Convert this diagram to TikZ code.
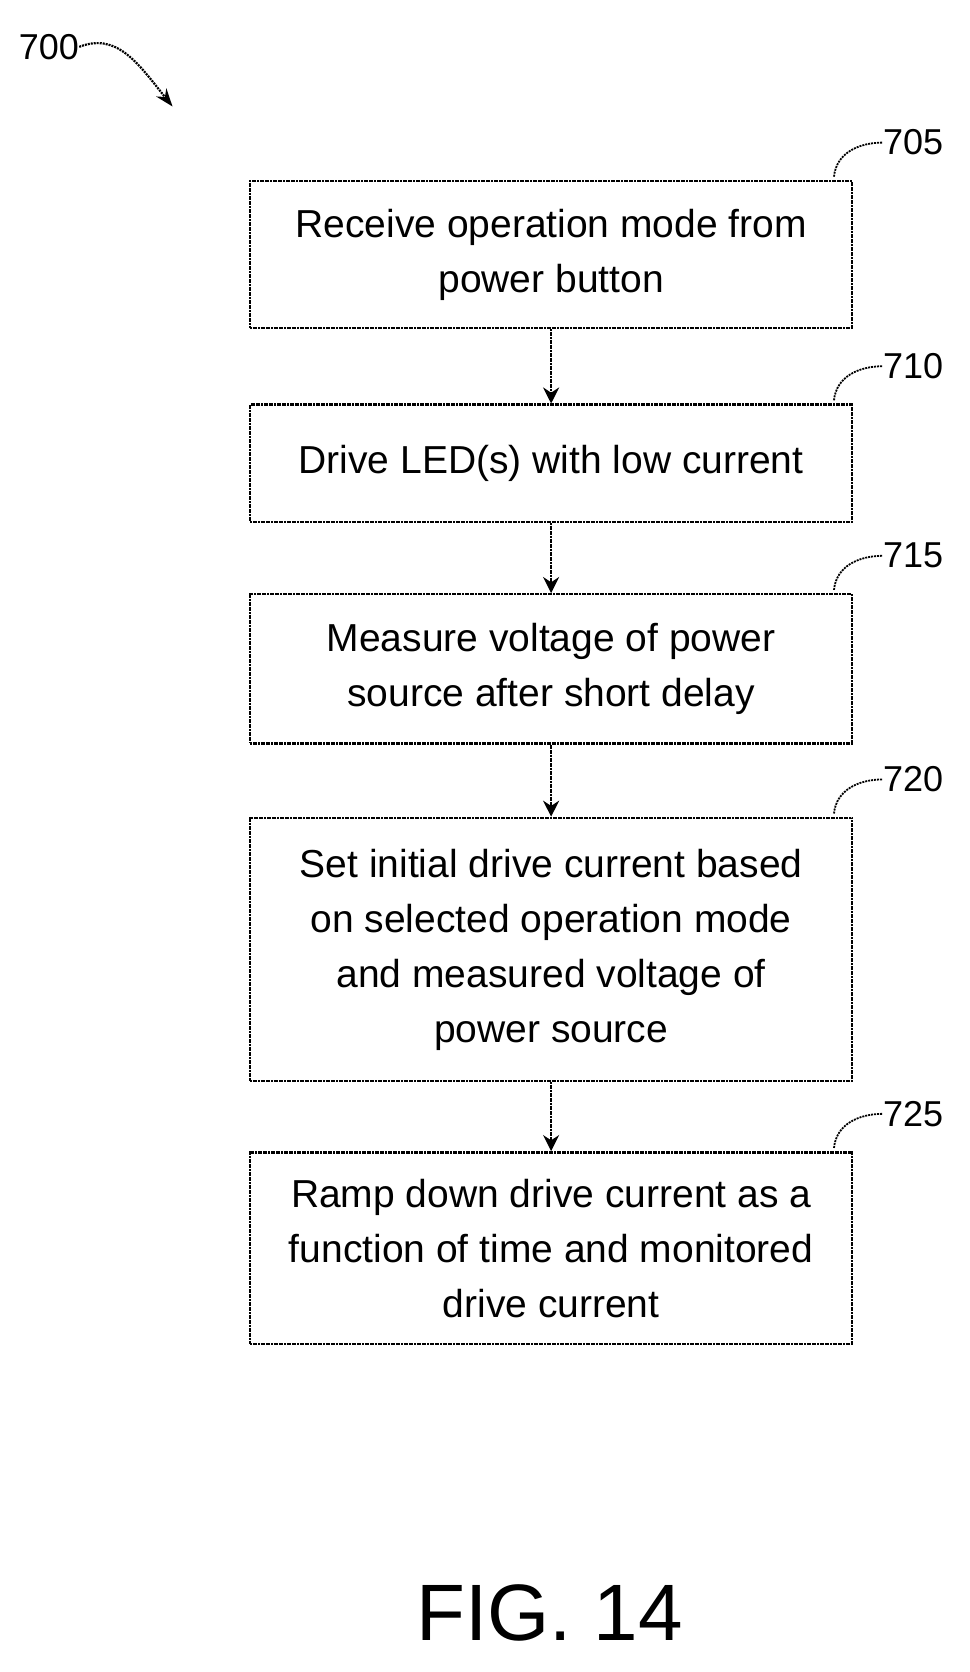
\documentclass[tikz,border=0pt]{standalone}
\usepackage{fontspec}
\setmainfont{Liberation Sans}
\usetikzlibrary{arrows.meta}
\begin{document}
\begin{tikzpicture}[x=1.065pt,y=-1.065pt,
  box/.style={draw,line width=2.4pt,dash pattern=on 2pt off 0.6pt,minimum width=565pt*1.065,align=center,inner sep=0pt,font=\fontsize{39}{55}\selectfont},
  flow/.style={line width=2.2pt,dash pattern=on 2pt off 0.6pt,-{Stealth[length=16pt,width=16pt]}},
  lead/.style={line width=1.8pt,dash pattern=on 2pt off 1pt},
  lbl/.style={font=\fontsize{36}{40}\selectfont,anchor=west,inner sep=0pt}]
\useasboundingbox (0,0) rectangle (910,1570);
\node[box,minimum height=138pt*1.065] (b1) at (517.5,239) {Receive operation mode from\\power button};
\node[box,minimum height=110pt*1.065] (b2) at (517.5,435) {Drive LED(s) with low current};
\node[box,minimum height=140pt*1.065] (b3) at (517.5,628) {Measure voltage of power\\source after short delay};
\node[box,minimum height=247pt*1.065] (b4) at (517.5,891.5) {Set initial drive current based\\on selected operation mode\\and measured voltage of\\power source};
\node[box,minimum height=180pt*1.065] (b5) at (517.5,1172) {Ramp down drive current as a\\function of time and monitored\\drive current};
\draw[flow] (b1) -- (b2);
\draw[flow] (b2) -- (b3);
\draw[flow] (b3) -- (b4);
\draw[flow] (b4) -- (b5);
\foreach \b/\t in {b1/705,b2/710,b3/715,b4/720,b5/725}{
  \node[lbl] (l\t) at ([shift={(28,-35)}]\b.north east) {\t};
  \draw[lead] ([shift={(-18,-3)}]\b.north east) .. controls ([shift={(-16,-25)}]\b.north east) and ([shift={(5,-35)}]\b.north east) .. (l\t.west);
}
\node[font=\fontsize{36}{40}\selectfont,inner sep=0pt] (n700) at (46,44) {700};
\coordinate (a700) at (162,100);
\draw[lead,line width=2.2pt,-{Stealth[length=18pt,width=13pt]}] (n700.east) .. controls (110,30) and (130,60) .. (a700);
\node[font=\fontsize{80}{88}\selectfont,inner sep=0pt] (fig) at (516,1515) {FIG. 14};
\end{tikzpicture}
\end{document}
